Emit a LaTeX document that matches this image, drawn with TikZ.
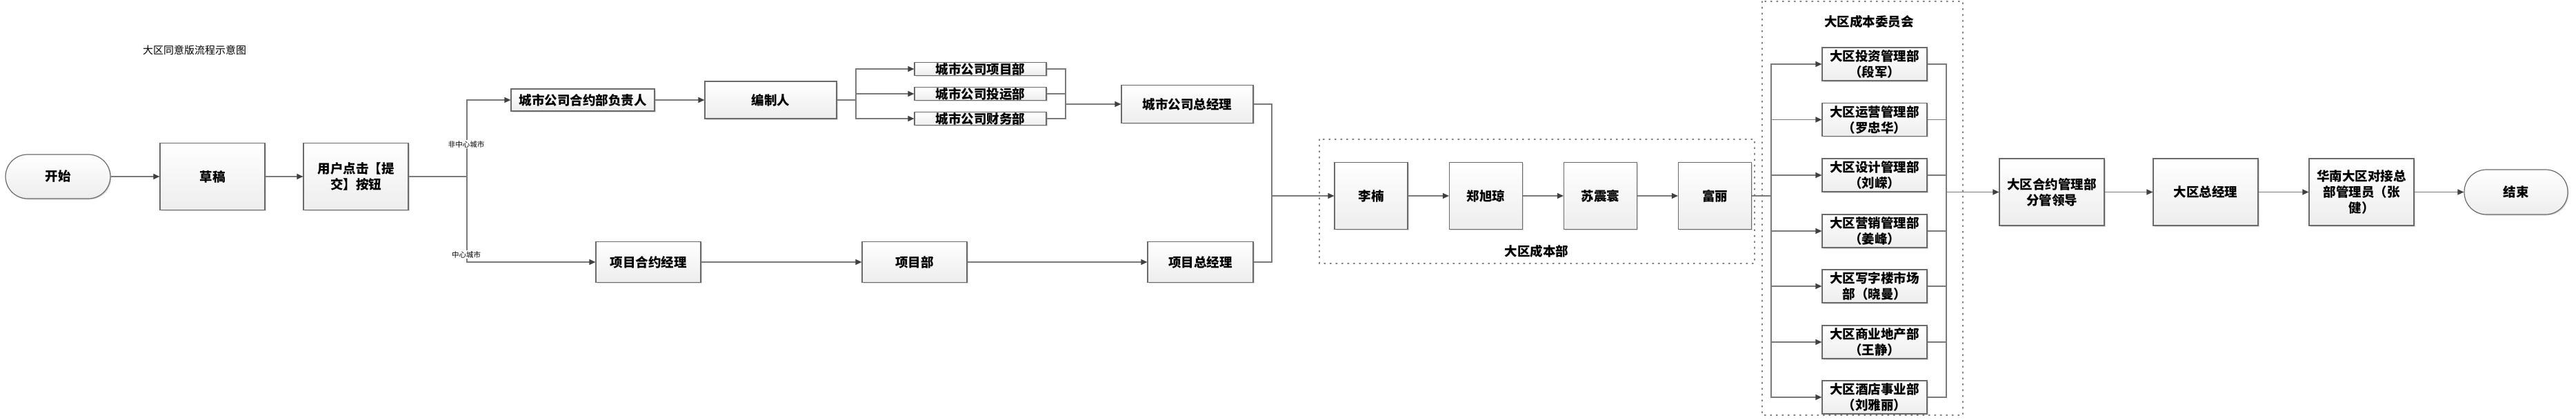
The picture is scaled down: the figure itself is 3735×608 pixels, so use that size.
\documentclass[tikz,border=0pt]{standalone}
\usepackage{fontspec}
\usetikzlibrary{arrows.meta,shadows}
\newfontfamily\cjk{Noto Sans CJK SC}
\definecolor{linegray}{HTML}{7A7A7A}
\definecolor{tipgray}{HTML}{404040}
\definecolor{boxline}{HTML}{6A6A6A}

\tikzset{every picture/.style={line width=1.2pt}}
\tikzset{
  box/.style={draw=boxline, line width=1.2pt, top color=white, bottom color=black!7,
    drop shadow={shadow xshift=1.5pt, shadow yshift=-1.5pt, fill=black, opacity=0.15},
    minimum width=152pt, minimum height=97pt, inner sep=2pt, align=center,
    font=\cjk\bfseries\fontsize{18.5}{23}\selectfont},
  term/.style={box, rounded corners=32pt, minimum height=64pt},
  thin box/.style={box, minimum width=191pt, minimum height=19pt, inner ysep=0pt},
  member/.style={box, minimum height=48pt, inner ysep=1pt},
  flow/.style={draw=linegray, -{Triangle[length=9pt,width=8pt,color=tipgray]}},
  link/.style={draw=linegray},
  group/.style={draw=linegray, line width=1.5pt, dash pattern=on 1.5pt off 7pt, line cap=round},
  caption/.style={font=\cjk\bfseries\fontsize{18.5}{23}\selectfont, inner sep=0.75pt},
  branch label/.style={fill=white, inner sep=1pt, font=\cjk\fontsize{10.5}{12}\selectfont}
}

\begin{document}
\begin{tikzpicture}[x=1pt,y=1pt,yscale=-1,xscale=1]
    \useasboundingbox (0,0) rectangle (3735,608);

    \draw [group] (1913,202) rectangle (2544,382);
    \draw [group] (2555,2) rectangle (2846,602);

    \node (title) at (282,73) [font=\cjk\fontsize{15}{18}\selectfont][inner sep=0.75pt] {大区同意版流程示意图};

    \node (start) at (84,256) [term] {开始};
    \node (draft) at (308,256) [box] {草稿};
    \node (submit) at (516,256) [box] {用户点击【提\\交】按钮};
    \coordinate (branch) at (677,256);

    \node (cityhead) at (845,145) [box, minimum width=208pt, minimum height=32pt] {城市公司合约部负责人};
    \node (editor) at (1117.5,145) [box, minimum width=191pt, minimum height=54pt] {编制人};
    \coordinate (fork) at (1241,145);
    \node (deptproj) at (1421.5,100) [thin box] {城市公司项目部};
    \node (deptinv) at (1421.5,136) [thin box] {城市公司投运部};
    \node (deptfin) at (1421.5,172) [thin box] {城市公司财务部};
    \coordinate (merge) at (1545,151);
    \node (citygm) at (1721.5,151) [box, minimum width=191pt, minimum height=55pt] {城市公司总经理};

    \node (projcm) at (940,380) [box, minimum height=59pt] {项目合约经理};
    \node (projdept) at (1326,380) [box, minimum height=59pt] {项目部};
    \node (projgm) at (1740.5,380) [box, minimum width=153pt, minimum height=59pt] {项目总经理};
    \coordinate (join) at (1844,284);

    \node (linan) at (1988,284) [box, minimum width=106pt] {李楠};
    \node (zhengxq) at (2154.5,284) [box, minimum width=106pt] {郑旭琼};
    \node (suzh) at (2320.5,284) [box, minimum width=106pt] {苏震寰};
    \node (fuli) at (2486.5,284) [box, minimum width=106pt] {富丽};
    \node (costlabel) at (2228,364) [caption] {大区成本部};

    \node (committee) at (2710,31) [caption] {大区成本委员会};
    \coordinate (cfork) at (2568,284);
    \node (cinv) at (2718,93) [member] {大区投资管理部\\（段军）};
    \node (cops) at (2718,173.5) [member] {大区运营管理部\\（罗忠华）};
    \node (cdes) at (2718,254) [member] {大区设计管理部\\（刘嵘）};
    \node (cmkt) at (2718,335) [member] {大区营销管理部\\（姜峰）};
    \node (coff) at (2718,415) [member] {大区写字楼市场\\部（晓曼）};
    \node (ccom) at (2718,496) [member] {大区商业地产部\\（王静）};
    \node (chot) at (2718,576) [member] {大区酒店事业部\\（刘雅丽）};
    \coordinate (cmerge) at (2822,278.5);

    \node (lead) at (2975,278.5) [box] {大区合约管理部\\分管领导};
    \node (regiongm) at (3198,278.5) [box] {大区总经理};
    \node (hnadmin) at (3424,278.5) [box] {华南大区对接总\\部管理员（张\\健）};
    \node (finish) at (3648,278.5) [term, minimum width=150pt, minimum height=65pt] {结束};

    \draw [flow] (start) -- (draft);
    \draw [flow] (draft) -- (submit);
    \draw [link] (submit) -- (branch);
    \draw [flow] (branch) |- (cityhead);
    \draw [flow] (branch) |- (projcm);
    \node (notcentral) at (676,209) [branch label] {非中心城市};
    \node (central) at (676,369) [branch label] {中心城市};

    \draw [flow] (cityhead) -- (editor);
    \draw [link] (editor) -- (fork);
    \draw [flow] (fork) |- (deptproj);
    \draw [flow] (fork) |- (deptinv);
    \draw [flow] (fork) |- (deptfin);
    \draw [link] (deptproj) -| (merge);
    \draw [link] (deptinv) -| (merge);
    \draw [link] (deptfin) -| (merge);
    \draw [flow] (merge) -- (citygm);

    \draw [flow] (projcm) -- (projdept);
    \draw [flow] (projdept) -- (projgm);
    \draw [link] (citygm) -| (join);
    \draw [link] (projgm) -| (join);
    \draw [flow] (join) -- (linan);

    \draw [flow] (linan) -- (zhengxq);
    \draw [flow] (zhengxq) -- (suzh);
    \draw [flow] (suzh) -- (fuli);
    \draw [link] (fuli) -- (cfork);

    \draw [flow] (cfork) |- (cinv);
    \draw [flow] (cfork) |- (cops);
    \draw [flow] (cfork) |- (cdes);
    \draw [flow] (cfork) |- (cmkt);
    \draw [flow] (cfork) |- (coff);
    \draw [flow] (cfork) |- (ccom);
    \draw [flow] (cfork) |- (chot);
    \draw [link] (cinv) -| (cmerge);
    \draw [link] (cops) -| (cmerge);
    \draw [link] (cdes) -| (cmerge);
    \draw [link] (cmkt) -| (cmerge);
    \draw [link] (coff) -| (cmerge);
    \draw [link] (ccom) -| (cmerge);
    \draw [link] (chot) -| (cmerge);
    \draw [flow] (cmerge) -- (lead);

    \draw [flow] (lead) -- (regiongm);
    \draw [flow] (regiongm) -- (hnadmin);
    \draw [flow] (hnadmin) -- (finish);
\end{tikzpicture}
\end{document}
